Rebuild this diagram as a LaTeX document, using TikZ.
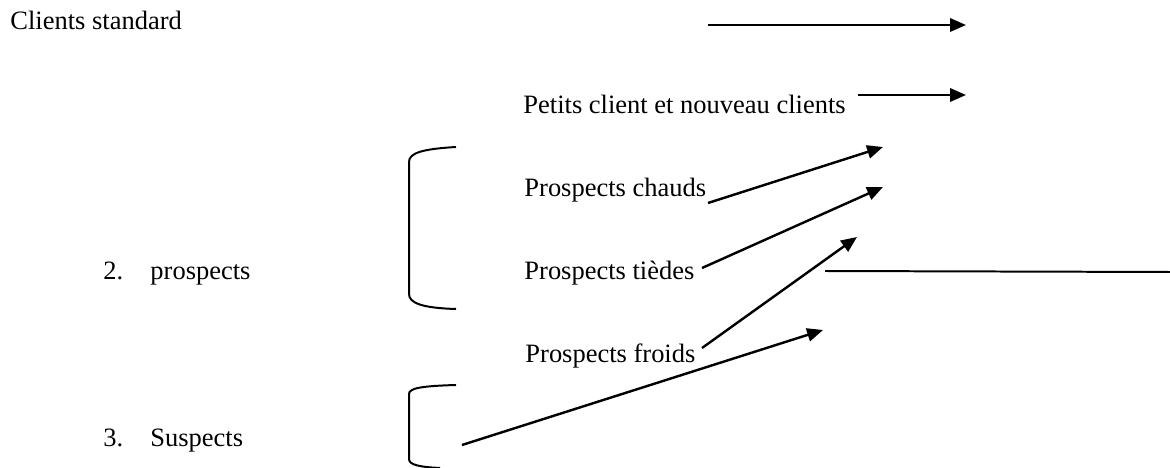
\documentclass[tikz,border=0pt]{standalone}
\usepackage{fontspec}
\setmainfont{Liberation Serif}
\usepackage{tikz}
\usetikzlibrary{arrows.meta, positioning}

\begin{document}
\begin{tikzpicture}[x=0.453pt, y=-0.453pt, >={Triangle[length=7.2pt, width=6pt]},
    lbl/.style={anchor=base west, inner sep=0pt, font=\fontsize{12}{14}\selectfont},
    arr/.style={->, line width=1.1pt},
    brk/.style={line width=0.9pt}]
    \useasboundingbox (0,0) rectangle (1170,468);

    % Texts of the segments
    \node[lbl] (standard) at (10,30) {Clients standard};
    \node[lbl] (petits) at (523,114) {Petits client et nouveau clients};
    \node[lbl] (chauds) at (524,197) {Prospects chauds};
    \node[lbl] (tiedes) at (524,280) {Prospects tièdes};
    \node[lbl] (froids) at (525,362) {Prospects froids};
    \node[lbl] (num2) at (103,280) {2.};
    \node[lbl] (prospects) at (150,280) {prospects};
    \node[lbl] (num3) at (103,446) {3.};
    \node[lbl] (suspects) at (150,446) {Suspects};

    % Ends of the arrows
    \coordinate (a1s) at (708,25);   \coordinate (a1e) at (966,25);
    \coordinate (a2s) at (858,95);   \coordinate (a2e) at (966,95);
    \coordinate (chs) at (708,203);  \coordinate (che) at (883,147);
    \coordinate (tis) at (702,268);  \coordinate (tie) at (883,187);
    \coordinate (frs) at (702,348);  \coordinate (fre) at (857,237);
    \coordinate (sus) at (462,445);  \coordinate (sue) at (823,330);
    \coordinate (lns) at (825,271);  \coordinate (lne) at (1170,272);

    % Arrows
    \draw[arr] (a1s) -- (a1e);
    \draw[arr] (a2s) -- (a2e);
    \draw[arr] (chs) -- (che);
    \draw[arr] (tis) -- (tie);
    \draw[arr] (frs) -- (fre);
    \draw[arr] (sus) -- (sue);
    \draw[line width=0.9pt] (lns) -- (lne);

    % Brackets round the prospects and the suspects
    \draw[brk] (456,147) .. controls (422,149) and (409,153) .. (409,162) -- (409,294)
        .. controls (409,303) and (422,308) .. (456,309);
    \draw[brk] (456,385) .. controls (422,386) and (409,388) .. (409,394) -- (409,459)
        .. controls (409,465) and (420,467) .. (440,468);
\end{tikzpicture}
\end{document}
